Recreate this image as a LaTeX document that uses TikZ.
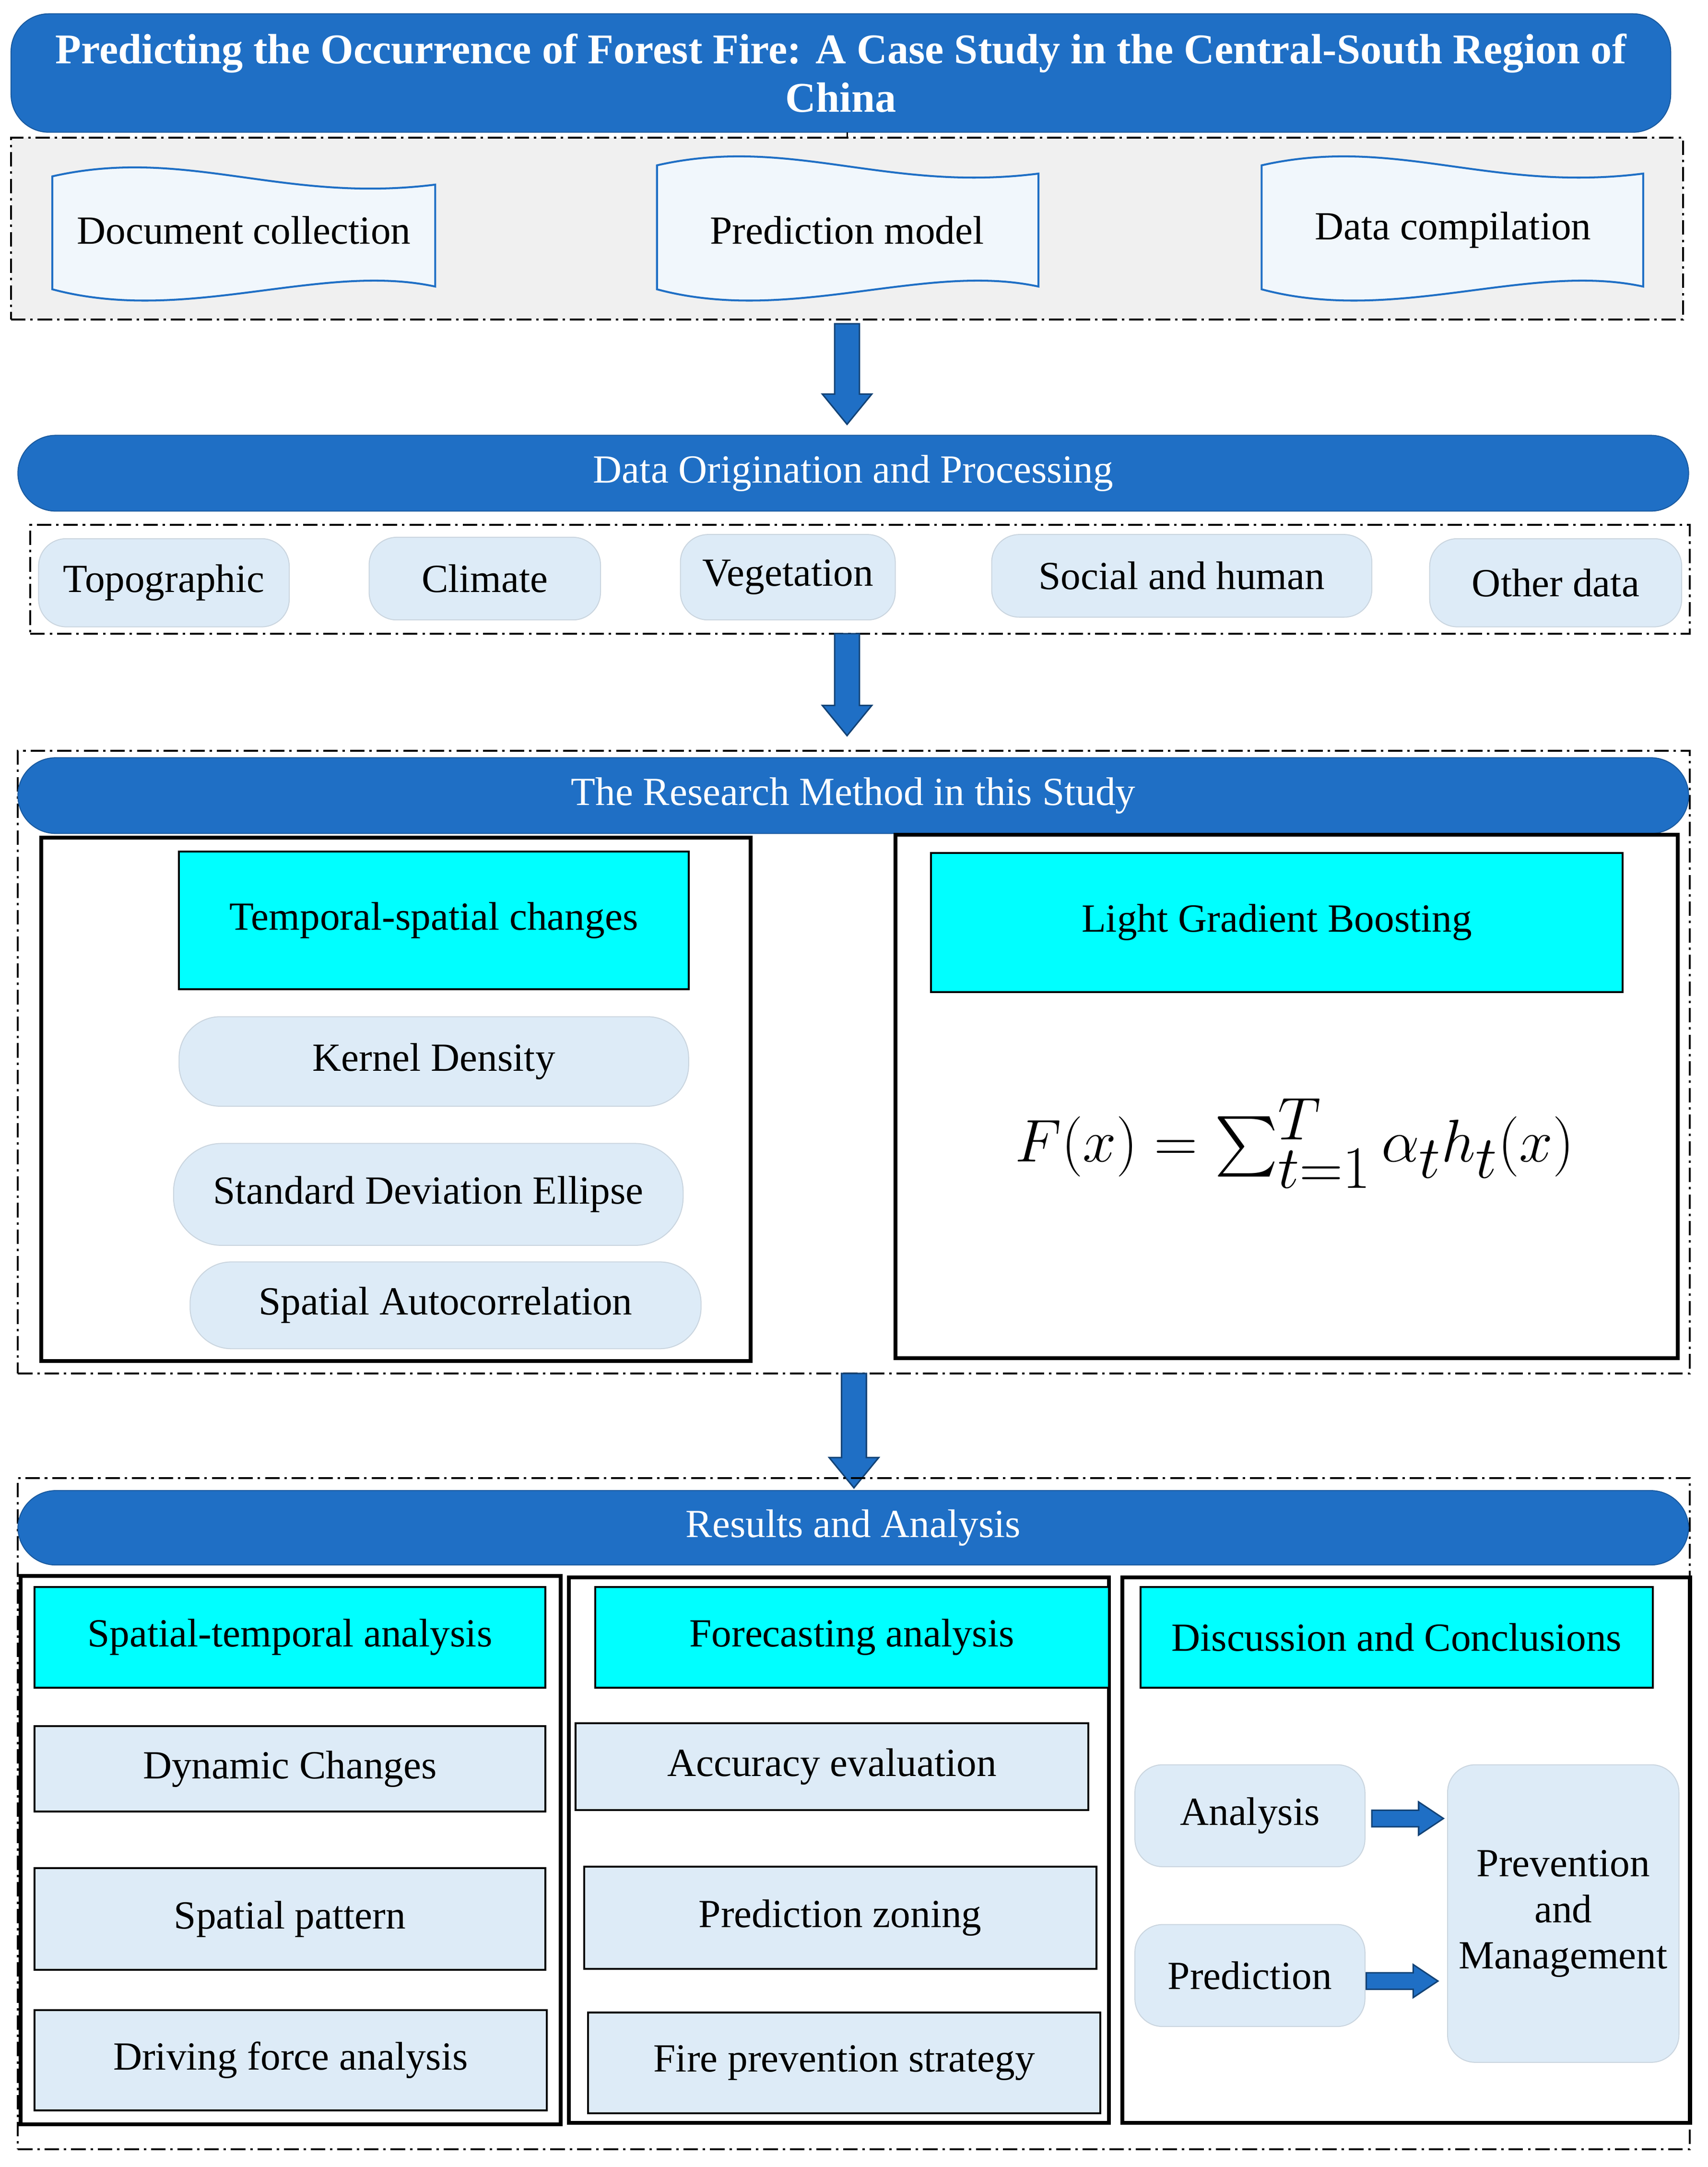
\documentclass[tikz,border=0pt]{standalone}
\usepackage{amsmath}
\usepackage{fontspec}
\setmainfont{Liberation Serif}
\definecolor{bann}{RGB}{31,111,197}
\definecolor{lb}{RGB}{221,235,247}
\definecolor{cy}{RGB}{0,255,255}
\definecolor{gr}{RGB}{240,240,240}
\newcommand\B[7]{\node[#1, minimum width={(#5-#3)*0.02cm}, minimum height={(#6-#4)*0.02cm}] (#2) at ({(#3+#5)/2},{(#4+#6)/2}) {#7};}
\newcommand\Doc[5]{%
 \filldraw[draw=bann, fill=lb!40, line width=0.8pt] (#1,#2+10) .. controls ({#1+(#3-#1)*0.35},#2-12) and ({#1+(#3-#1)*0.6},#2+30) .. (#3,#2+16) -- (#3,#4-14) .. controls ({#1+(#3-#1)*0.7},#4-32) and ({#1+(#3-#1)*0.35},#4+14) .. (#1,#4-12) -- cycle;
 \coordinate (#5) at ({(#1+#3)/2},167);}
\newcommand\VA[3]{\filldraw[fill=bann, draw=bann!60!black, line width=0.6pt] (#1-9,#2) -- (#1+9,#2) -- (#1+9,#3-22) -- (#1+18,#3-22) -- (#1,#3) -- (#1-18,#3-22) -- (#1-9,#3-22) -- cycle;}
\newcommand\HA[3]{\filldraw[fill=bann, draw=bann!60!black, line width=0.6pt] (#2,#1-6) -- (#3-18,#1-6) -- (#3-18,#1-12) -- (#3,#1) -- (#3-18,#1+12) -- (#3-18,#1+6) -- (#2,#1+6) -- cycle;}
\begin{document}
\begin{tikzpicture}[x=0.02cm,y=-0.02cm,
 txt/.style={font=\fontsize{16.5}{19}\selectfont, inner sep=0, outer sep=0},
 banner/.style={txt, fill=bann, draw=bann!80!black, rounded corners=0.55cm, text=white, align=center},
 dd/.style={draw, line width=0.8pt, dash pattern=on 6pt off 2pt on 1pt off 2pt},
 pill/.style={txt, fill=lb, draw=lb!80!gray, rounded corners=0.4cm, align=center},
 lbox/.style={txt, fill=lb, draw=black, line width=0.8pt},
 cbox/.style={txt, fill=cy, draw=black, line width=0.8pt},
 frame/.style={draw=black, line width=1.6pt, inner sep=0}]
\useasboundingbox (0,0) rectangle (1240,1573);
\fill[white] (0,0) rectangle (1240,1573);
\B{banner, font=\fontsize{17.5}{20}\selectfont\bfseries}{title}{8}{10}{1213}{96}{Predicting the Occurrence of Forest Fire: A Case Study in the Central-South Region of\\China}
\B{dd, fill=gr}{g1}{8}{100}{1222}{232}{}
\draw[line width=0.6pt] (615,96) -- (615,100);
\Doc{38}{118}{316}{222}{d1}
\Doc{477}{110}{754}{222}{d2}
\Doc{916}{110}{1193}{222}{d3}
\node[txt] (d1t) at (177,167) {Document collection};
\node[txt] (d2t) at (615,167) {Prediction model};
\node[txt] (d3t) at (1055,167) {Data compilation};
\VA{615}{235}{308}
\B{banner}{b2}{13}{316}{1226}{371}{Data Origination and Processing}
\B{dd}{g2}{22}{381}{1227}{460}{}
\B{pill}{p1}{28}{391}{210}{455}{Topographic}
\B{pill}{p2}{268}{390}{436}{450}{Climate}
\B{pill}{p3}{494}{388}{650}{450}{Vegetation}
\B{pill}{p4}{720}{388}{996}{448}{Social and human}
\B{pill}{p5}{1038}{391}{1221}{455}{Other data}
\VA{615}{460}{534}
\B{dd}{g3}{13}{545}{1227}{997}{}
\B{banner}{b3}{13}{550}{1226}{605}{The Research Method in this Study}
\B{frame}{f1}{30}{608}{545}{988}{}
\B{cbox}{c1}{130}{618}{500}{718}{Temporal-spatial changes}
\B{pill, rounded corners=0.6cm}{k1}{130}{738}{500}{803}{Kernel Density}
\B{pill, rounded corners=0.7cm}{k2}{126}{830}{496}{904}{Standard Deviation Ellipse}
\B{pill, rounded corners=0.6cm}{k3}{138}{916}{509}{979}{Spatial Autocorrelation}
\B{frame}{f2}{650}{606}{1218}{986}{}
\B{cbox}{c2}{676}{619}{1178}{720}{Light Gradient Boosting}
\node[txt, font=\fontsize{39}{44}\selectfont] (fx) at (940,830) {$F(x)=\textstyle\sum_{t=1}^{T}\alpha_t h_t(x)$};
\VA{620}{997}{1080}
\B{dd}{g4}{13}{1073}{1227}{1560}{}
\B{banner}{b4}{13}{1082}{1226}{1136}{Results and Analysis}
\B{frame}{f3}{15}{1144}{407}{1542}{}
\B{frame}{f4}{413}{1145}{805}{1541}{}
\B{frame}{f5}{815}{1145}{1227}{1541}{}
\B{cbox}{r1}{25}{1152}{396}{1225}{Spatial-temporal analysis}
\B{lbox}{r2}{25}{1253}{396}{1315}{Dynamic Changes}
\B{lbox}{r3}{25}{1356}{396}{1430}{Spatial pattern}
\B{lbox}{r4}{25}{1459}{397}{1532}{Driving force analysis}
\B{cbox}{s1}{432}{1152}{805}{1225}{Forecasting analysis}
\B{lbox}{s2}{418}{1251}{790}{1314}{Accuracy evaluation}
\B{lbox}{s3}{424}{1355}{796}{1429}{Prediction zoning}
\B{lbox}{s4}{427}{1461}{799}{1534}{Fire prevention strategy}
\B{cbox}{t1}{828}{1152}{1200}{1225}{Discussion and Conclusions}
\B{pill}{t2}{824}{1281}{991}{1355}{Analysis}
\B{pill}{t3}{824}{1397}{991}{1471}{Prediction}
\B{pill}{t4}{1051}{1281}{1219}{1497}{Prevention\\and\\Management}
\HA{1320}{996}{1048}
\HA{1438}{992}{1044}
\end{tikzpicture}
\end{document}
